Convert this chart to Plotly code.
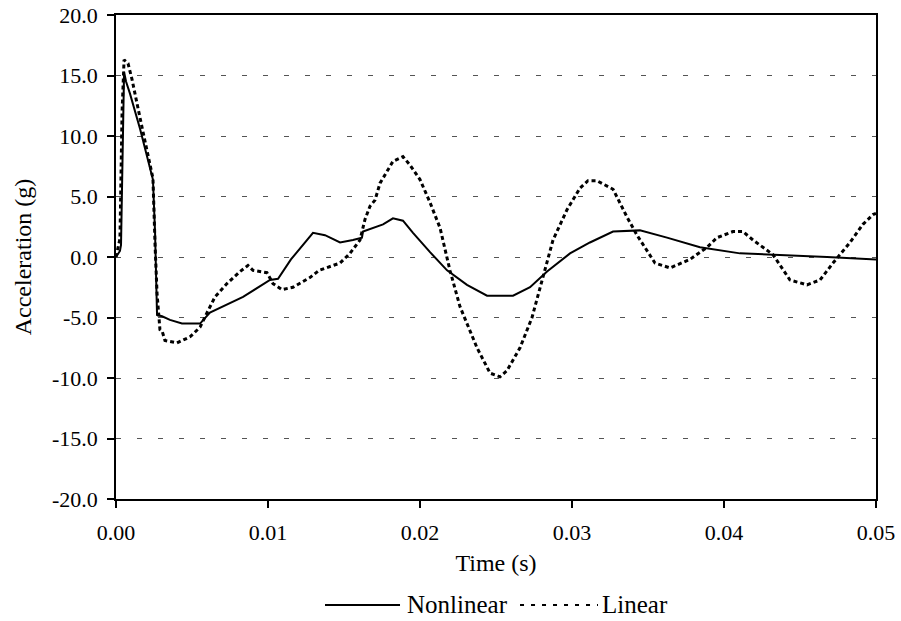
import plotly.graph_objects as go

# Nonlinear response (solid)
t_nonlinear = [0.0, 0.00026, 0.00033, 0.00046, 0.00053, 0.00066, 0.00092, 0.00158, 0.00211, 0.00237,
               0.00243, 0.00257, 0.0027, 0.00303, 0.00355, 0.00434, 0.00553, 0.00618, 0.00836, 0.01013,
               0.01066, 0.01151, 0.01217, 0.01296, 0.01375, 0.01474, 0.01559, 0.01618, 0.01625, 0.01691,
               0.01757, 0.01822, 0.01888, 0.01954, 0.02066, 0.02178, 0.02309, 0.02441, 0.02612, 0.02724,
               0.02836, 0.02987, 0.03118, 0.0327, 0.03447, 0.03625, 0.03842, 0.04105, 0.04322, 0.04678,
               0.05]
a_nonlinear = [0.0, 0.5, 1.0, 10.0, 15.3, 14.5, 13.5, 10.6, 8.0, 6.6,
               6.4, 2.0, -4.8, -4.9, -5.2, -5.5, -5.5, -4.6, -3.3, -1.9,
               -1.8, -0.2, 0.8, 2.0, 1.8, 1.2, 1.4, 1.6, 2.1, 2.4,
               2.7, 3.2, 3.0, 2.0, 0.4, -1.1, -2.3, -3.2, -3.2, -2.5,
               -1.2, 0.3, 1.2, 2.1, 2.2, 1.6, 0.8, 0.3, 0.2, 0.0,
               -0.2]

# Linear response (dotted)
t_linear = [0.0, 0.0002, 0.00026, 0.0004, 0.00053, 0.00079, 0.00105, 0.00158, 0.00211, 0.00243,
            0.00257, 0.0027, 0.00289, 0.00303, 0.00322, 0.00401, 0.00487, 0.00553, 0.00599, 0.00651,
            0.0073, 0.00816, 0.00868, 0.00901, 0.00993, 0.01033, 0.01092, 0.01164, 0.01276, 0.01336,
            0.01474, 0.01539, 0.01605, 0.01638, 0.01671, 0.01704, 0.01737, 0.01822, 0.01888, 0.01934,
            0.02, 0.02066, 0.02132, 0.02197, 0.02263, 0.02375, 0.02461, 0.02526, 0.02572, 0.02658,
            0.02737, 0.02809, 0.02875, 0.02967, 0.03053, 0.03105, 0.03164, 0.0327, 0.03362, 0.03428,
            0.03546, 0.03645, 0.03776, 0.03888, 0.03954, 0.04059, 0.04125, 0.04191, 0.04322, 0.04434,
            0.04546, 0.04632, 0.04717, 0.04829, 0.04914, 0.0498, 0.05]
a_linear = [0.0, 1.0, 1.5, 12.0, 16.3, 16.0, 14.7, 11.5, 8.5, 6.5,
            1.0, -3.0, -6.0, -6.1, -6.9, -7.1, -6.6, -5.8, -4.6, -3.3,
            -2.2, -1.2, -0.7, -1.1, -1.3, -2.2, -2.7, -2.5, -1.7, -1.1,
            -0.5, 0.3, 1.4, 3.1, 4.2, 4.7, 6.1, 7.9, 8.3, 7.6,
            6.4, 4.5, 2.4, -1.1, -4.1, -7.5, -9.6, -9.9, -9.4, -7.5,
            -5.0, -1.6, 1.4, 3.9, 5.7, 6.3, 6.3, 5.6, 3.3, 1.8,
            -0.5, -0.9, -0.2, 0.8, 1.6, 2.1, 2.1, 1.4, 0.2, -1.9,
            -2.3, -1.9, -0.5, 1.2, 2.7, 3.5, 3.6]

x_ticks = [0.0, 0.01, 0.02, 0.03, 0.04, 0.05]
x_tick_labels = ["0.00", "0.01", "0.02", "0.03", "0.04", "0.05"]
y_ticks = [-20, -15, -10, -5, 0, 5, 10, 15, 20]
y_tick_labels = ["-20.0", "-15.0", "-10.0", "-5.0", "0.0", "5.0", "10.0", "15.0", "20.0"]
series_names = ["Nonlinear", "Linear"]

FONT = "Liberation Serif, Times New Roman, serif"
SOLID = dict(color="black", width=2)
DOTTED = dict(color="black", width=3, dash="4px,3px")

fig = go.Figure()
fig.add_trace(go.Scatter(x=t_nonlinear, y=a_nonlinear, mode="lines", name=series_names[0],
                         line=SOLID, showlegend=False))
fig.add_trace(go.Scatter(x=t_linear, y=a_linear, mode="lines", name=series_names[1],
                         line=DOTTED, showlegend=False))

# Legend drawn below the plot (long line samples as in the reference)
legend_y = -0.219
fig.add_shape(type="line", xref="paper", yref="paper", x0=0.275, x1=0.3737,
              y0=legend_y, y1=legend_y, line=dict(color="black", width=2))
fig.add_shape(type="line", xref="paper", yref="paper", x0=0.5316, x1=0.6342,
              y0=legend_y, y1=legend_y, line=dict(color="black", width=2, dash="4px,7px"))
fig.add_annotation(text=series_names[0], xref="paper", yref="paper", x=0.3800, y=legend_y,
                   xanchor="left", yanchor="middle", showarrow=False, font=dict(size=25))
fig.add_annotation(text=series_names[1], xref="paper", yref="paper", x=0.6370, y=legend_y,
                   xanchor="left", yanchor="middle", showarrow=False, font=dict(size=25))

fig.update_layout(
    width=901, height=621,
    paper_bgcolor="white", plot_bgcolor="white",
    margin=dict(l=116, r=25, t=15, b=122, autoexpand=False),
    font=dict(family=FONT, color="black", size=22),
    showlegend=False,
    xaxis=dict(range=[0, 0.05], tickvals=x_ticks, ticktext=x_tick_labels,
               showline=True, linecolor="black", linewidth=1.5, mirror=True,
               ticks="outside", ticklen=7, tickcolor="black", tickwidth=1.5,
               showgrid=False, zeroline=False, ticklabelstandoff=6, automargin=False,
               title=dict(text="Time (s)", font=dict(size=24), standoff=10)),
    yaxis=dict(range=[-20, 20], tickvals=y_ticks, ticktext=y_tick_labels,
               showline=True, linecolor="black", linewidth=1.5, mirror=True,
               ticks="outside", ticklen=7, tickcolor="black", tickwidth=1.5,
               showgrid=True, gridcolor="#555555", gridwidth=1, griddash="5px,16px",
               zeroline=False, ticklabelstandoff=5, automargin=False,
               title=dict(text="Acceleration (g)", font=dict(size=24), standoff=14)),
)

fig.write_html("out.html")
